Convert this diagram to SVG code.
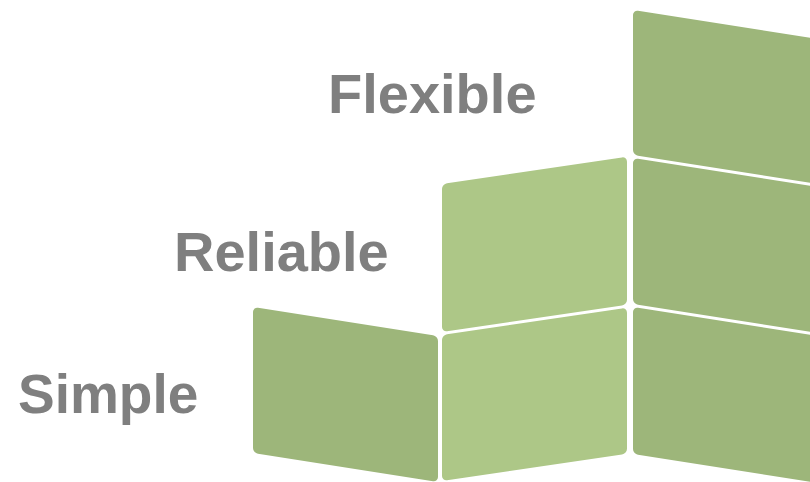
<svg xmlns="http://www.w3.org/2000/svg" width="810" height="482" viewBox="0 0 810 482">
<style>
.lbl{font-family:"Liberation Sans",Arial,sans-serif;font-weight:bold;font-size:56px;fill:#7f7f7f}
.dk{fill:#9db67a}
.lt{fill:#adc787}
</style>
<rect width="810" height="482" fill="#ffffff"/>
<g id="block-left">
<rect class="dk" transform="translate(253,307) skewY(8.9)" x="0" y="0" width="185" height="146" rx="5"/>
</g>
<g id="block-mid-top">
<rect class="lt" transform="translate(442,184) skewY(-8.4)" x="0" y="0" width="185" height="148" rx="5"/>
</g>
<g id="block-mid-bottom">
<rect class="lt" transform="translate(442,335) skewY(-8.4)" x="0" y="0" width="185" height="146" rx="5"/>
</g>
<g id="block-right-top">
<rect class="dk" transform="translate(633,10) skewY(8.9)" x="0" y="0" width="200" height="145" rx="5"/>
</g>
<g id="block-right-mid">
<rect class="dk" transform="translate(633,158) skewY(8.9)" x="0" y="0" width="200" height="146" rx="5"/>
</g>
<g id="block-right-bottom">
<rect class="dk" transform="translate(633,307) skewY(8.9)" x="0" y="0" width="200" height="147" rx="5"/>
</g>
<g id="labels">
<text class="lbl" x="328" y="113">Flexible</text>
<text class="lbl" x="174" y="271">Reliable</text>
<text class="lbl" x="18" y="413" style="font-size:55px">Simple</text>
</g>
</svg>
